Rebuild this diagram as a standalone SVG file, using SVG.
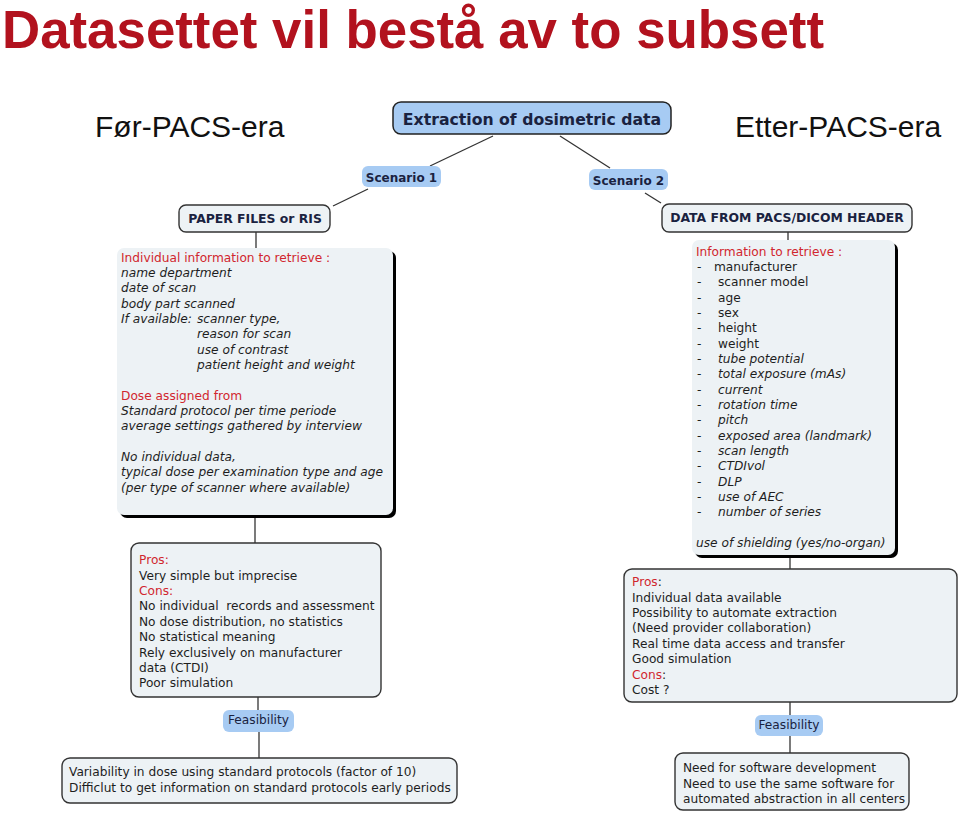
<svg xmlns="http://www.w3.org/2000/svg" width="960" height="817" viewBox="0 0 960 817">
<style>
.title{font-family:"Liberation Sans",Arial,sans-serif;font-weight:bold;font-size:53px;fill:#b2121e}
.era{font-family:"Liberation Sans",Arial,sans-serif;font-size:30px;fill:#111}
.blue{fill:#a7cbf3}
.main{fill:#a7cbf3;stroke:#222;stroke-width:1.5}
.light{fill:#edf2f5;stroke:#333;stroke-width:1.4}
.panel{fill:#edf2f5}
.shadow{fill:#000}
.b{font-family:"DejaVu Sans",Verdana,sans-serif;font-weight:bold;fill:#1a2240}
.t{font-family:"DejaVu Sans",Verdana,sans-serif;font-size:12.2px;fill:#1e1e1e}
.pre{white-space:pre}
.i{font-style:italic}
.r{fill:#d1262e}
.conn line{stroke:#333;stroke-width:1.3}
</style>
<text class="title" x="2" y="48" textLength="822" lengthAdjust="spacingAndGlyphs">Datasettet vil bestå av to subsett</text>
<text class="era" x="95" y="137">Før-PACS-era</text>
<text class="era" x="735" y="137">Etter-PACS-era</text>

<g class="conn" id="connectors">
<line x1="493" y1="136" x2="430" y2="166"/>
<line x1="560" y1="136" x2="610" y2="168"/>
<line x1="368" y1="189" x2="333" y2="206"/>
<line x1="645" y1="193" x2="661" y2="203"/>
<line x1="256" y1="232" x2="256" y2="248"/>
<line x1="788" y1="232" x2="788" y2="240"/>
<line x1="255" y1="518" x2="255" y2="543"/>
<line x1="258" y1="697" x2="258" y2="710"/>
<line x1="259" y1="732" x2="259" y2="758"/>
<line x1="790" y1="558" x2="790" y2="569"/>
<line x1="790" y1="702" x2="790" y2="715"/>
<line x1="790" y1="736" x2="790" y2="753"/>
</g>

<g id="main">
<rect class="main" x="393" y="102" width="278" height="32" rx="8"/>
<text class="b" x="532" y="125" font-size="15.7" text-anchor="middle">Extraction of dosimetric data</text>
</g>
<g id="scenario1">
<rect class="blue" x="362" y="166" width="79" height="21" rx="6"/>
<text class="b" x="401.5" y="181.5" font-size="12" text-anchor="middle">Scenario 1</text>
</g>
<g id="scenario2">
<rect class="blue" x="589" y="169" width="79" height="21" rx="6"/>
<text class="b" x="628.5" y="184.5" font-size="12" text-anchor="middle">Scenario 2</text>
</g>
<g id="paper">
<rect class="light" x="179" y="205" width="151" height="27" rx="7"/>
<text class="b" x="255" y="222.5" font-size="12.4" text-anchor="middle">PAPER FILES or RIS</text>
</g>
<g id="pacs">
<rect class="light" x="662" y="204" width="250" height="28" rx="7"/>
<text class="b" x="787" y="222" font-size="12.4" text-anchor="middle">DATA FROM PACS/DICOM HEADER</text>
</g>

<g id="left-info">
<rect class="shadow" x="120" y="251" width="276" height="267" rx="7"/>
<rect class="panel" x="117" y="248" width="276" height="267" rx="7"/>
<text class="t">
<tspan class="r" x="121" y="261.5">Individual information to retrieve :</tspan>
<tspan class="i" x="121" y="276.85">name department</tspan>
<tspan class="i" x="121" y="292.2">date of scan</tspan>
<tspan class="i" x="121" y="307.55">body part scanned</tspan>
<tspan class="i" x="121" y="322.9">If available:</tspan><tspan class="i" x="197" y="322.9">scanner type,</tspan>
<tspan class="i" x="197" y="338.25">reason for scan</tspan>
<tspan class="i" x="197" y="353.6">use of contrast</tspan>
<tspan class="i" x="197" y="368.95">patient height and weight</tspan>
<tspan class="r" x="121" y="399.65">Dose assigned from</tspan>
<tspan class="i" x="121" y="415">Standard protocol per time periode</tspan>
<tspan class="i" x="121" y="430.35">average settings gathered by interview</tspan>
<tspan class="i" x="121" y="461.05">No individual data,</tspan>
<tspan class="i" x="121" y="476.4">typical dose per examination type and age</tspan>
<tspan class="i" x="121" y="491.75">(per type of scanner where available)</tspan>
</text>
</g>

<g id="right-info">
<rect class="shadow" x="695" y="243" width="203" height="315" rx="7"/>
<rect class="panel" x="692" y="240" width="203" height="315" rx="7"/>
<text class="t">
<tspan class="r" x="696" y="255.5">Information to retrieve :</tspan>
<tspan x="697" y="270.85">-</tspan><tspan x="714" y="270.85">manufacturer</tspan>
<tspan x="697" y="286.2">-</tspan><tspan x="718" y="286.2">scanner model</tspan>
<tspan x="697" y="301.55">-</tspan><tspan x="718" y="301.55">age</tspan>
<tspan x="697" y="316.9">-</tspan><tspan x="718" y="316.9">sex</tspan>
<tspan x="697" y="332.25">-</tspan><tspan x="718" y="332.25">height</tspan>
<tspan x="697" y="347.6">-</tspan><tspan x="718" y="347.6">weight</tspan>
<tspan x="697" y="362.95">-</tspan><tspan class="i" x="718" y="362.95">tube potential</tspan>
<tspan x="697" y="378.3">-</tspan><tspan class="i" x="718" y="378.3">total exposure (mAs)</tspan>
<tspan x="697" y="393.65">-</tspan><tspan class="i" x="718" y="393.65">current</tspan>
<tspan x="697" y="409">-</tspan><tspan class="i" x="718" y="409">rotation time</tspan>
<tspan x="697" y="424.35">-</tspan><tspan class="i" x="718" y="424.35">pitch</tspan>
<tspan x="697" y="439.7">-</tspan><tspan class="i" x="718" y="439.7">exposed area (landmark)</tspan>
<tspan x="697" y="455.05">-</tspan><tspan class="i" x="718" y="455.05">scan length</tspan>
<tspan x="697" y="470.4">-</tspan><tspan class="i" x="718" y="470.4">CTDIvol</tspan>
<tspan x="697" y="485.75">-</tspan><tspan class="i" x="718" y="485.75">DLP</tspan>
<tspan x="697" y="501.1">-</tspan><tspan class="i" x="718" y="501.1">use of AEC</tspan>
<tspan x="697" y="516.45">-</tspan><tspan class="i" x="718" y="516.45">number of series</tspan>
<tspan class="i" x="696" y="547.15">use of shielding (yes/no-organ)</tspan>
</text>
</g>

<g id="left-proscons">
<rect class="light" x="131" y="543" width="250" height="154" rx="8"/>
<text class="t">
<tspan class="r" x="139" y="564.4">Pros:</tspan>
<tspan x="139" y="579.75">Very simple but imprecise</tspan>
<tspan class="r" x="139" y="595.1">Cons:</tspan>
<tspan class="pre" x="139" y="610.45">No individual  records and assessment</tspan>
<tspan x="139" y="625.8">No dose distribution, no statistics</tspan>
<tspan x="139" y="641.15">No statistical meaning</tspan>
<tspan x="139" y="656.5">Rely exclusively on manufacturer</tspan>
<tspan x="139" y="671.85">data (CTDI)</tspan>
<tspan x="139" y="687.2">Poor simulation</tspan>
</text>
</g>

<g id="right-proscons">
<rect class="light" x="624" y="569" width="333" height="133" rx="8"/>
<text class="t">
<tspan class="r" x="632" y="586.4">Pros</tspan><tspan>:</tspan>
<tspan x="632" y="601.75">Individual data available</tspan>
<tspan x="632" y="617.1">Possibility to automate extraction</tspan>
<tspan x="632" y="632.45">(Need provider collaboration)</tspan>
<tspan x="632" y="647.8">Real time data access and transfer</tspan>
<tspan x="632" y="663.15">Good simulation</tspan>
<tspan class="r" x="632" y="678.5">Cons</tspan><tspan>:</tspan>
<tspan x="632" y="693.85">Cost ?</tspan>
</text>
</g>

<g id="feasibility-left">
<rect class="blue" x="223" y="710" width="71" height="22" rx="6"/>
<text class="t" x="258.5" y="724.4" text-anchor="middle" style="fill:#1a2240">Feasibility</text>
</g>
<g id="feasibility-right">
<rect class="blue" x="755" y="715" width="68" height="21" rx="6"/>
<text class="t" x="789" y="729.4" text-anchor="middle" style="fill:#1a2240">Feasibility</text>
</g>

<g id="left-feas-box">
<rect class="light" x="62" y="758" width="395" height="45" rx="8"/>
<text class="t">
<tspan x="69" y="776.4">Variability in dose using standard protocols (factor of 10)</tspan>
<tspan x="69" y="791.75">Difficlut to get information on standard protocols early periods</tspan>
</text>
</g>
<g id="right-feas-box">
<rect class="light" x="675" y="753" width="234" height="57" rx="8"/>
<text class="t">
<tspan x="683" y="772.4">Need for software development</tspan>
<tspan x="683" y="787.75">Need to use the same software for</tspan>
<tspan x="683" y="803.1">automated abstraction in all centers</tspan>
</text>
</g>
</svg>
